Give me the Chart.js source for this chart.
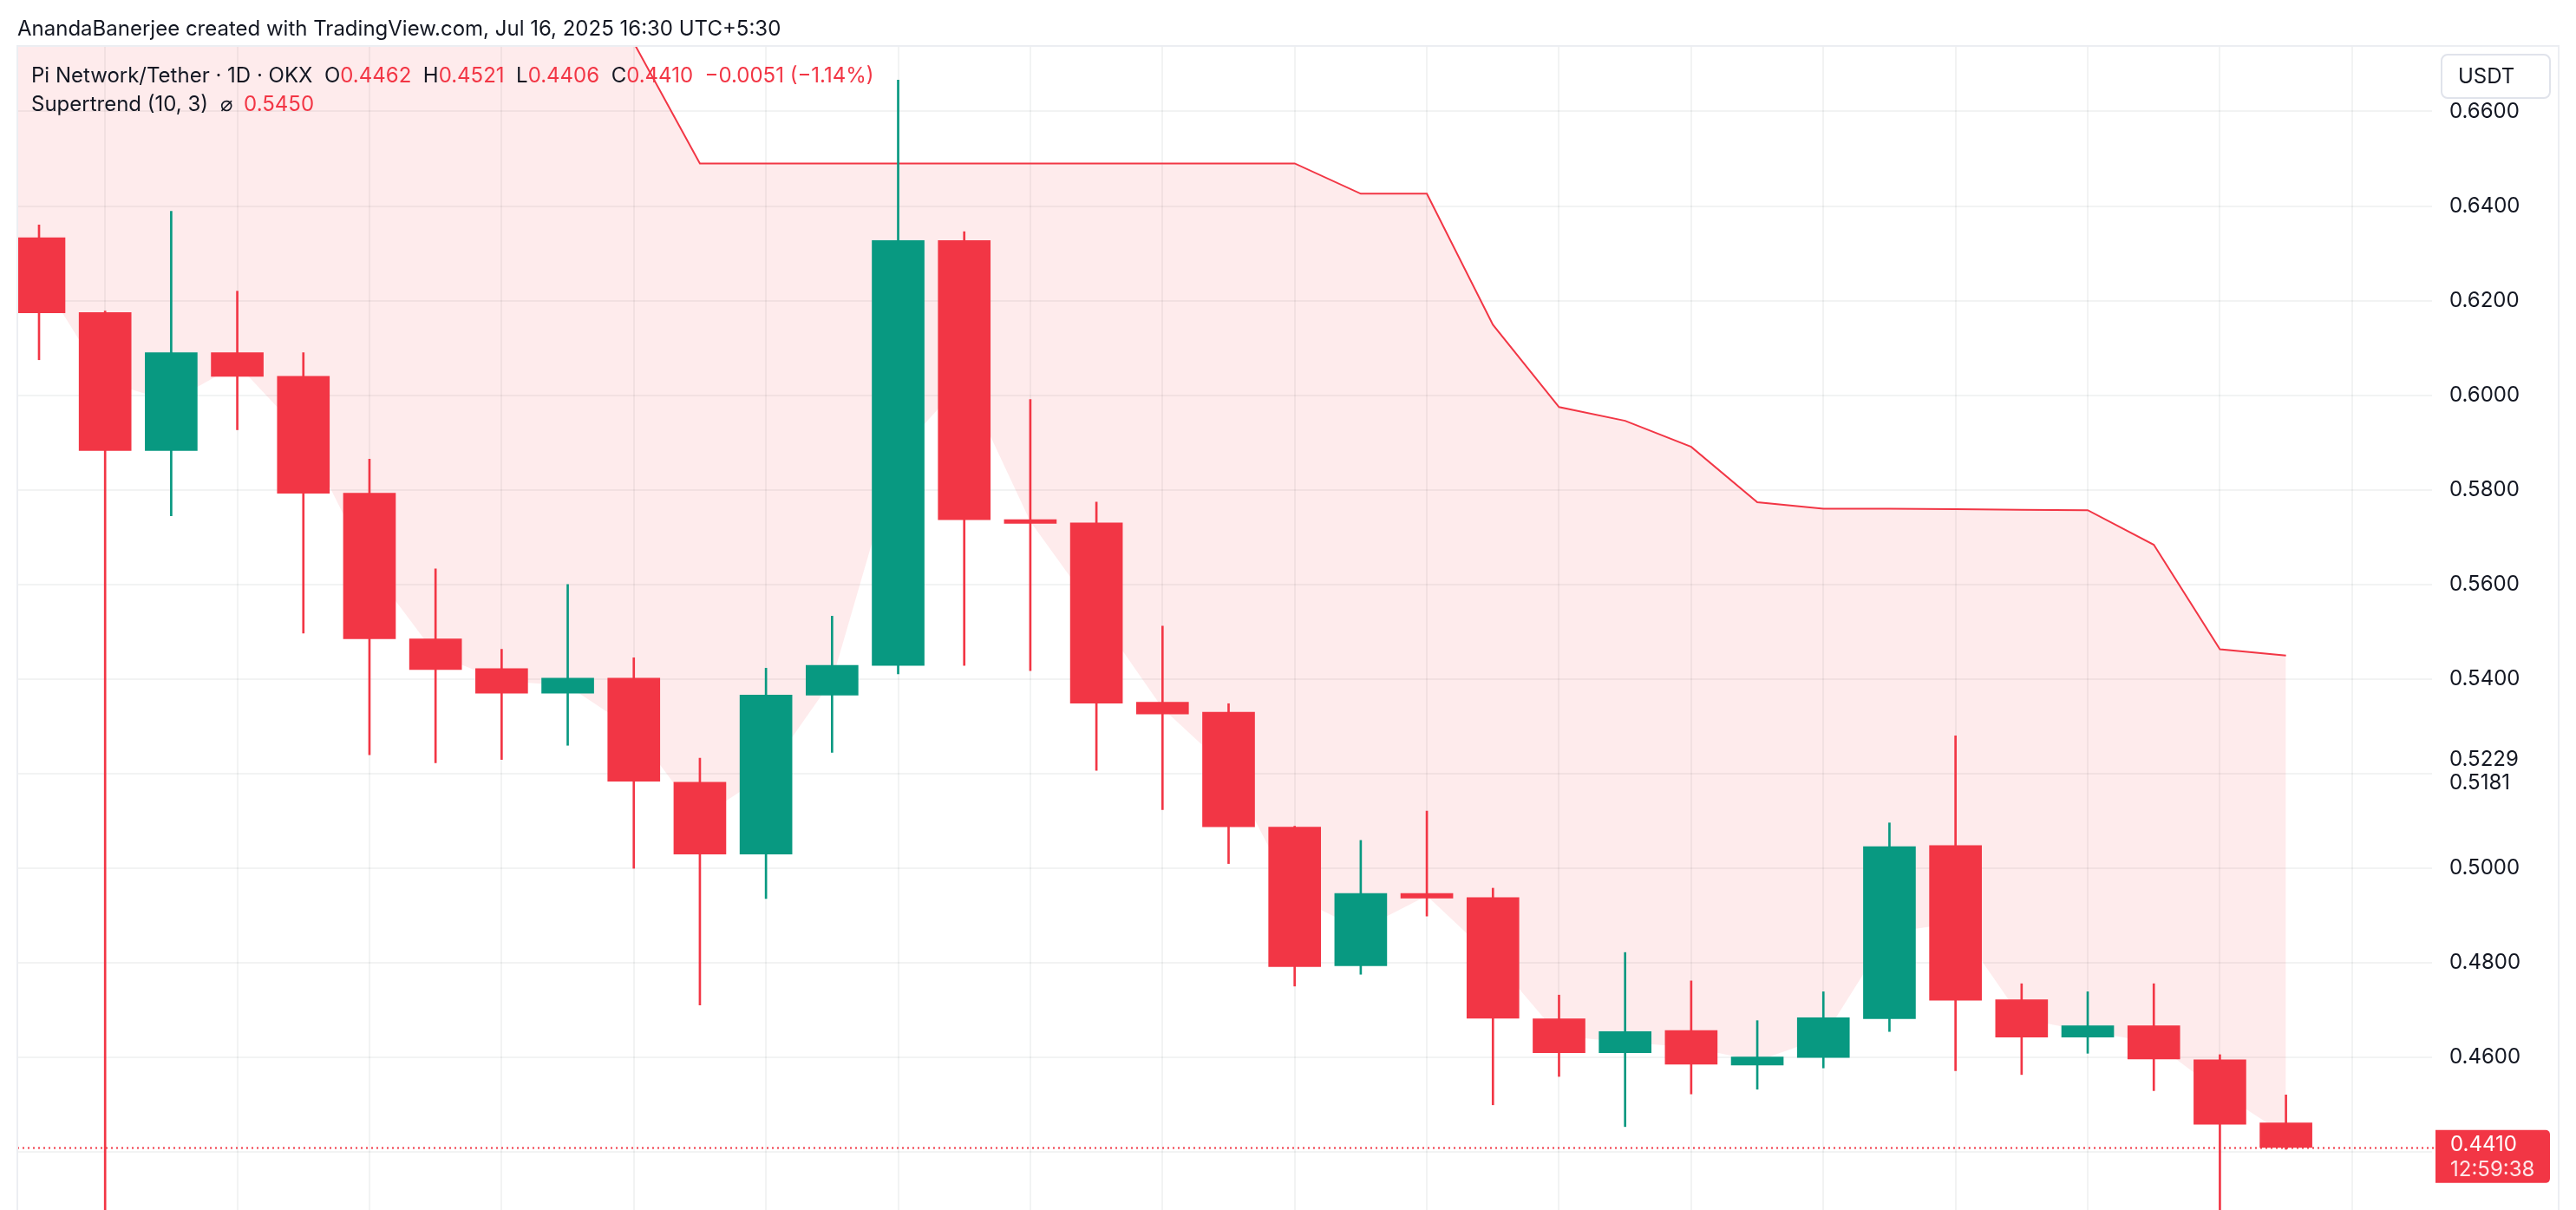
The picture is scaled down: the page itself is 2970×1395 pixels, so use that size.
<!DOCTYPE html>
<html>
<head>
<meta charset="utf-8">
<script src="https://cdn.jsdelivr.net/npm/chart.js@4/dist/chart.umd.min.js"></script>
<style>
  body { margin: 0; background: #fff; }
  #wrap { position: relative; width: 2970px; height: 1395px; overflow: hidden; font-family: 'Inter', sans-serif; color: #131722; }
  .txt { position: absolute; white-space: pre; line-height: 30px; font-size: 24px; }
  .red { color: #f23645; }
  #usdt { position: absolute; left: 2814px; top: 62px; width: 123px; height: 48px; border: 2px solid #e0e3eb; border-radius: 8px; background: #fff; box-sizing: content-box; font-size: 24px; line-height: 48px; }
  #usdt span { position: absolute; left: 18px; }
</style>
</head>
<body>
<div id="wrap">
  <canvas id="chart" width="2970" height="1395"></canvas>
  <div class="txt" style="left:20px;top:18px">AnandaBanerjee created with TradingView.com, Jul 16, 2025 16:30 UTC+5:30</div>
  <div class="txt" style="left:36px;top:72px">Pi Network/Tether · 1D · OKX  O<span class="red">0.4462</span>  H<span class="red">0.4521</span>  L<span class="red">0.4406</span>  C<span class="red">0.4410</span>  <span class="red">−0.0051 (−1.14%)</span></div>
  <div class="txt" style="left:36px;top:105px">Supertrend (10, 3)  ⌀  <span class="red">0.5450</span></div>
  <div id="usdt"><span>USDT</span></div>
</div>
<script>
// daily candles, PI/USDT OKX
const days = ['Jun 12', 'Jun 13', 'Jun 14', 'Jun 15', 'Jun 16', 'Jun 17', 'Jun 18', 'Jun 19', 'Jun 20', 'Jun 21',
  'Jun 22', 'Jun 23', 'Jun 24', 'Jun 25', 'Jun 26', 'Jun 27', 'Jun 28', 'Jun 29', 'Jun 30', 'Jul 1',
  'Jul 2', 'Jul 3', 'Jul 4', 'Jul 5', 'Jul 6', 'Jul 7', 'Jul 8', 'Jul 9', 'Jul 10', 'Jul 11',
  'Jul 12', 'Jul 13', 'Jul 14', 'Jul 15', 'Jul 16'];
const opens = [0.6333, 0.6175, 0.5883, 0.6090, 0.6040, 0.5793, 0.5485, 0.5422, 0.5370, 0.5402,
  0.5182, 0.5030, 0.5366, 0.5429, 0.6327, 0.5737, 0.5730, 0.5351, 0.5330, 0.5087,
  0.4794, 0.4947, 0.4938, 0.4682, 0.4610, 0.4657, 0.4584, 0.4600, 0.4682, 0.5048,
  0.4722, 0.4643, 0.4667, 0.4595, 0.4462];
const highs = [0.6360, 0.6178, 0.6389, 0.6220, 0.6090, 0.5865, 0.5633, 0.5463, 0.5600, 0.5445,
  0.5233, 0.5423, 0.5533, 0.6666, 0.6346, 0.5991, 0.5774, 0.5512, 0.5348, 0.5089,
  0.5059, 0.5121, 0.4958, 0.4732, 0.4822, 0.4762, 0.4678, 0.4739, 0.5096, 0.5280,
  0.4756, 0.4739, 0.4756, 0.4606, 0.4521];
const lows = [0.6075, 0.4000, 0.5745, 0.5927, 0.5497, 0.5240, 0.5223, 0.5230, 0.5260, 0.5000,
  0.4711, 0.4936, 0.5245, 0.5411, 0.5429, 0.5418, 0.5207, 0.5124, 0.5010, 0.4751,
  0.4776, 0.4899, 0.4500, 0.4560, 0.4454, 0.4523, 0.4533, 0.4578, 0.4655, 0.4572,
  0.4564, 0.4609, 0.4530, 0.4150, 0.4406];
const closes = [0.6174, 0.5883, 0.6090, 0.6040, 0.5793, 0.5485, 0.5420, 0.5370, 0.5402, 0.5184,
  0.5030, 0.5366, 0.5429, 0.6327, 0.5737, 0.5729, 0.5349, 0.5326, 0.5088, 0.4792,
  0.4947, 0.4937, 0.4683, 0.4610, 0.4655, 0.4586, 0.4601, 0.4684, 0.5046, 0.4721,
  0.4643, 0.4667, 0.4597, 0.4459, 0.4410];
const supertrend = [0.7050, 0.7050, 0.6980, 0.6980, 0.6930, 0.6870, 0.6820, 0.6790, 0.6760, 0.6745,
  0.6490, 0.6490, 0.6490, 0.6490, 0.6490, 0.6490, 0.6490, 0.6490, 0.6490, 0.6490,
  0.6426, 0.6426, 0.6149, 0.5975, 0.5946, 0.5891, 0.5774, 0.5760, 0.5760, 0.5759,
  0.5758, 0.5757, 0.5684, 0.5463, 0.5450];
// Jun 11 candle sits just left of the visible pane, only its band shows
const priorSupertrend = 0.7120;
const priorBodyMid = 0.6300;

const priceTicks = [0.44, 0.46, 0.48, 0.50, 0.52, 0.54, 0.56, 0.58, 0.60, 0.62, 0.64, 0.66];
const extraLabels = [0.5229, 0.5181];
const hiddenLabels = [0.44, 0.52];
const lastPrice = 0.4410;
const countdown = '12:59:38';

const UP = '#089981', DOWN = '#f23645';
const gridColor = 'rgba(42,46,57,0.06)';
const colors = opens.map((o, i) => closes[i] >= o ? UP : DOWN);

// price label + dotted last price line + frame
const overlay = {
  id: 'overlay',
  afterDatasetsDraw(chart) {
    const { ctx, chartArea, scales: { y } } = chart;
    const py = Math.round(y.getPixelForValue(lastPrice)) + 0.5;
    ctx.save();
    ctx.strokeStyle = DOWN;
    ctx.lineWidth = 2;
    ctx.setLineDash([2, 4]);
    ctx.beginPath();
    ctx.moveTo(chartArea.left, py);
    ctx.lineTo(chartArea.right + 4, py);
    ctx.stroke();
    ctx.restore();
  },
  afterDraw(chart) {
    const { ctx, chartArea, scales: { y } } = chart;
    ctx.save();
    ctx.strokeStyle = '#eceef2';
    ctx.lineWidth = 2;
    ctx.beginPath();
    ctx.moveTo(20, 1395); ctx.lineTo(20, 53); ctx.lineTo(2950, 53); ctx.lineTo(2950, 1395);
    ctx.stroke();

    const py = y.getPixelForValue(lastPrice);
    const x0 = chartArea.right + 4, x1 = 2940, top = py - 20, bot = py + 41, r = 5;
    ctx.fillStyle = DOWN;
    ctx.beginPath();
    ctx.moveTo(x0, top);
    ctx.lineTo(x1 - r, top);
    ctx.arcTo(x1, top, x1, top + r, r);
    ctx.lineTo(x1, bot - r);
    ctx.arcTo(x1, bot, x1 - r, bot, r);
    ctx.lineTo(x0, bot);
    ctx.closePath();
    ctx.fill();
    ctx.fillStyle = '#ffffff';
    ctx.font = '24px Inter';
    ctx.textBaseline = 'middle';
    ctx.fillText(lastPrice.toFixed(4), 2825, py - 3);
    ctx.fillStyle = 'rgba(255,255,255,0.88)';
    ctx.fillText(countdown, 2825, py + 26);
    ctx.restore();
  }
};

new Chart(document.getElementById('chart'), {
  type: 'bar',
  data: {
    datasets: [{
      type: 'line',
      label: 'Supertrend',
      data: [{ x: -1, y: priorSupertrend }, ...supertrend.map((v, i) => ({ x: i, y: v }))],
      borderColor: DOWN,
      borderWidth: 2,
      pointRadius: 0,
      tension: 0,
      fill: '+1',
      backgroundColor: 'rgba(242,54,69,0.1)',
      order: 3,
    }, {
      type: 'line',
      label: 'Body middle',
      data: [{ x: -1, y: priorBodyMid }, ...opens.map((o, i) => ({ x: i, y: (o + closes[i]) / 2 }))],
      borderWidth: 0,
      borderColor: 'transparent',
      pointRadius: 0,
      fill: false,
      order: 4,
    }, {
      label: 'Wicks',
      data: lows.map((l, i) => ({ x: i, y: [l, highs[i]] })),
      backgroundColor: colors,
      barThickness: 2,
      grouped: false,
      order: 1,
    }, {
      label: days.length + ' days',
      data: opens.map((o, i) => ({ x: i, y: [o, closes[i]] })),
      backgroundColor: colors,
      barThickness: 60,
      minBarLength: 2,
      grouped: false,
      order: 0,
    }],
  },
  options: {
    responsive: false,
    devicePixelRatio: 1,
    animation: false,
    layout: { padding: { left: 20, top: 53, right: 20, bottom: 0 } },
    plugins: { legend: { display: false }, tooltip: { enabled: false } },
    scales: {
      x: {
        type: 'linear',
        min: -0.328, max: 36.21,
        offset: false,
        border: { display: false },
        grid: { color: gridColor, lineWidth: 2, drawTicks: false, offset: false },
        ticks: { display: false },
        afterBuildTicks: scale => {
          const t = [];
          for (let v = 1; v <= 35; v += 2) t.push({ value: v });
          scale.ticks = t;
        },
        afterFit: scale => { scale.height = 0; },
      },
      y: {
        position: 'right',
        min: 0.42777, max: 0.67383,
        border: { display: false },
        grid: {
          lineWidth: 2, drawTicks: false,
          color: ctx => (ctx.tick && extraLabels.includes(ctx.tick.value)) ? 'transparent' : gridColor,
        },
        ticks: {
          autoSkip: false,
          padding: 20,
          color: '#131722',
          font: { family: 'Inter', size: 24 },
          callback: v => hiddenLabels.includes(v) ? '' : v.toFixed(4),
        },
        afterBuildTicks: scale => {
          scale.ticks = [...priceTicks, ...extraLabels].map(v => ({ value: v }));
        },
        afterFit: scale => { scale.width = 146; scale.paddingTop = 0; scale.paddingBottom = 0; },
      },
    },
  },
  plugins: [overlay],
});
</script>
</body>
</html>
